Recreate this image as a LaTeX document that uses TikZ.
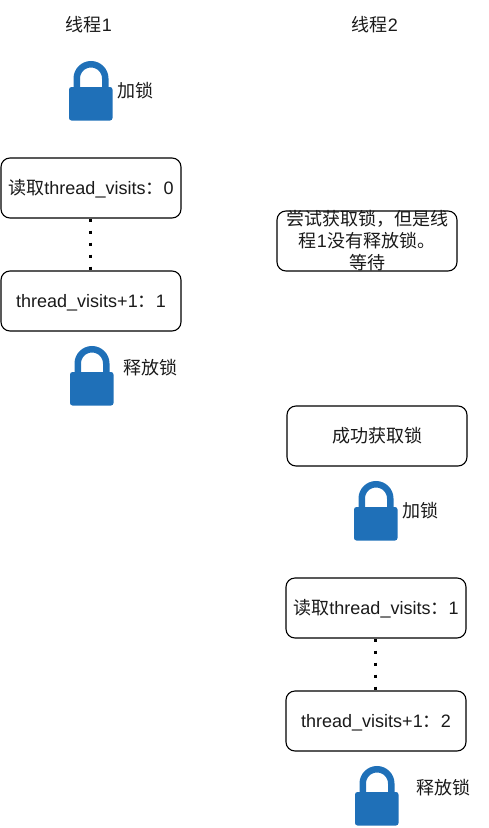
\documentclass[tikz,border=0pt]{standalone}
\usepackage{fontspec}
\setmainfont{Liberation Sans}
\newfontfamily\cjk{Noto Sans CJK SC}
\newcommand{\zh}[1]{{\cjk #1}}
\definecolor{lockblue}{HTML}{1F70B8}
\definecolor{inkdark}{HTML}{1A1A1A}
\tikzset{
  x=1pt,y=-1pt,
  every node/.style={font=\fontsize{18}{22}\selectfont,text=inkdark,inner sep=0pt},
  roundbox/.style={draw=black,line width=1.1pt,rounded corners=9pt,minimum width=180pt,minimum height=60pt,fill=white,align=center},
  boxtext/.style={text height=13.5pt,text depth=1pt},
  plain/.style={align=center},
  dots/.style={line width=3pt,dash pattern=on 3pt off 9pt},
  pics/padlock/.style={code={
    \draw[lockblue,line width=6.5pt] (-14.25,-3) -- (-14.25,-12.5) arc[start angle=180,end angle=360,radius=14.25] -- (14.25,-3);
    \fill[lockblue,rounded corners=2.5pt] (-22,-4) rectangle (21.5,29.5);
  }}
}
\begin{document}
\begin{tikzpicture}
\useasboundingbox (0,0) rectangle (489,828);
\node[plain] (t1) at (89,24.5) {\zh{线程}1};
\node[plain] (t2) at (375,24.5) {\zh{线程}2};

\pic (lockA) at (91,91) {padlock};
\node[plain] (lockAt) at (135,91) {\zh{加锁}};
\node[roundbox,boxtext] (r1) at (91,188) {\zh{读取}thread\_visits\zh{：}0};
\node[roundbox,boxtext] (a1) at (91,301) {thread\_visits+1\zh{：}1};
\draw[dots] ([xshift=-1pt]r1.south) -- ([xshift=-1pt]a1.north);
\pic (lockB) at (92,376) {padlock};
\node[plain] (lockBt) at (150,368) {\zh{释放锁}};

\node[roundbox] (wait) at (367,241) {\parbox[c][60pt][c]{176pt}{\centering\zh{尝试获取锁，但是线}\\\zh{程}1\zh{没有释放锁。}\\\zh{等待}}};
\node[roundbox,boxtext] (ok) at (377,436) {\zh{成功获取锁}};
\pic (lockC) at (376,511) {padlock};
\node[plain] (lockCt) at (420,511) {\zh{加锁}};
\node[roundbox,boxtext] (r2) at (376,608) {\zh{读取}thread\_visits\zh{：}1};
\node[roundbox,boxtext] (a2) at (376,721) {thread\_visits+1\zh{：}2};
\draw[dots] ([xshift=-1pt]r2.south) -- ([xshift=-1pt]a2.north);
\pic (lockD) at (377,796) {padlock};
\node[plain] (lockDt) at (443,788) {\zh{释放锁}};
\end{tikzpicture}
\end{document}
